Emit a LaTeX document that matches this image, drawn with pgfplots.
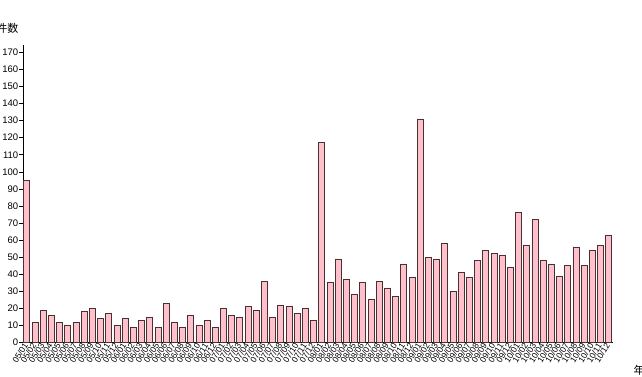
\documentclass[border=0pt]{standalone}
\usepackage{pgfplots}
\pgfplotsset{compat=1.18}
\usepackage{pgfplotstable}
\usepackage{fontspec}
\setmainfont{Liberation Sans}
\newfontfamily\jp{Noto Sans CJK JP}
\definecolor{barpink}{RGB}{255,192,203}
\definecolor{baredge}{RGB}{70,50,50}
\pgfplotstableread{
x y
0 95
1 12
2 19
3 16
4 12
5 10
6 12
7 18
8 20
9 14
10 17
11 10
12 14
13 9
14 13
15 15
16 9
17 23
18 12
19 9
20 16
21 10
22 13
23 9
24 20
25 16
26 15
27 21
28 19
29 36
30 15
31 22
32 21
33 17
34 20
35 13
36 117
37 35
38 49
39 37
40 28
41 35
42 25
43 36
44 32
45 27
46 46
47 38
48 131
49 50
50 49
51 58
52 30
53 41
54 38
55 48
56 54
57 52
58 51
59 44
60 76
61 57
62 72
63 48
64 46
65 39
66 45
67 56
68 45
69 54
70 57
71 63
}\datatable
\begin{document}
\begin{tikzpicture}
\begin{axis}[
  at={(0pt,0pt)}, anchor=origin,
  scale only axis,
  width=590pt, height=297pt,
  xmin=-0.4, xmax=71.57,
  ymin=0, ymax=174,
  axis x line*=bottom, axis y line*=left,
  axis line style={-, black, line width=0.6pt},
  ytick={0,10,...,170},
  ytick align=outside,
  major tick length=4pt,
  ytick style={black, line width=0.5pt},
  yticklabel style={font=\fontsize{9.5}{10}\selectfont, inner sep=1pt},
  /pgf/number format/assume math mode=true,
  xtick={0,...,71},
  xtick style={draw=none},
  xticklabels={05/01,05/02,05/03,05/04,05/05,05/06,05/07,05/08,05/09,05/10,05/11,05/12,
               06/01,06/02,06/03,06/04,06/05,06/06,06/07,06/08,06/09,06/10,06/11,06/12,
               07/01,07/02,07/03,07/04,07/05,07/06,07/07,07/08,07/09,07/10,07/11,07/12,
               08/01,08/02,08/03,08/04,08/05,08/06,08/07,08/08,08/09,08/10,08/11,08/12,
               09/01,09/02,09/03,09/04,09/05,09/06,09/07,09/08,09/09,09/10,09/11,09/12,
               10/01,10/02,10/03,10/04,10/05,10/06,10/07,10/08,10/09,10/10,10/11,10/12},
  xticklabel style={font=\fontsize{8.5}{9}\selectfont, rotate=58, anchor=east, inner sep=1.5pt},
  clip=false,
]
\addplot[ybar, bar width=6pt, fill=barpink, draw=baredge, line width=0.7pt] table[x=x,y=y] {\datatable};
\end{axis}
\node[anchor=east, font=\jp\fontsize{11}{12}\selectfont] at (-4.7pt,314.5pt) {件数};
\node[anchor=west, font=\jp\fontsize{11}{12}\selectfont] at (603.3pt,-27.5pt) {年月};
\pgfresetboundingbox
\path[use as bounding box] (-26.7pt,-34.5pt) rectangle (615.3pt,342.5pt);
\end{tikzpicture}
\end{document}
